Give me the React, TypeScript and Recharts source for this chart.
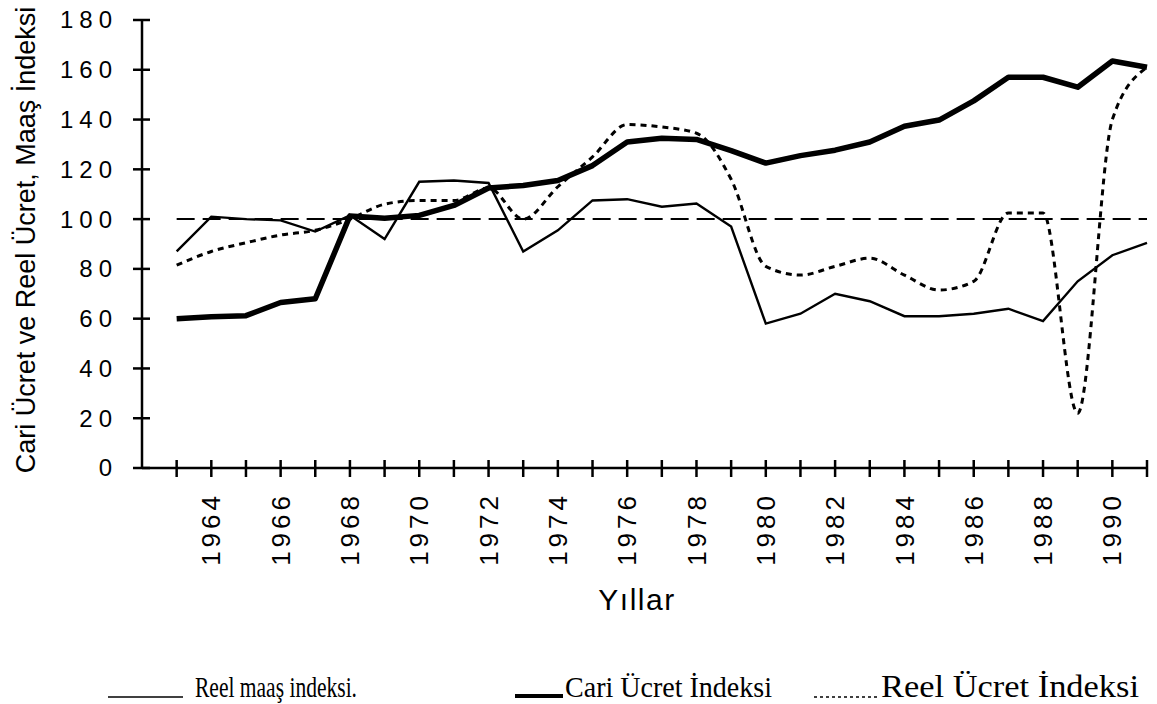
import React from 'react';
import { LineChart, Line, XAxis, YAxis, ReferenceLine } from 'recharts';

const years = [
  1963, 1964, 1965, 1966, 1967, 1968, 1969, 1970, 1971, 1972, 1973, 1974, 1975, 1976, 1977,
  1978, 1979, 1980, 1981, 1982, 1983, 1984, 1985, 1986, 1987, 1988, 1989, 1990, 1991,
];

// Reel maaş indeksi (thin line)
const reelMaas = [
  87, 101, 100, 99.5, 95, 101.5, 92, 115, 115.5, 114.5, 87, 95.5, 107.5, 108, 105,
  106.3, 97, 58, 62, 70, 67, 61, 61, 62, 64, 59, 75, 85.5, 90.5,
];

// Cari Ücret İndeksi (thick line)
const cariUcret = [
  60, 60.8, 61.2, 66.5, 68, 101.3, 100.3, 101.5, 105.5, 112.5, 113.5, 115.5, 121.5, 131, 132.5,
  132, 127.5, 122.5, 125.5, 127.7, 131, 137.3, 139.8, 147.5, 157, 157, 153, 163.5, 161,
];

// Reel Ücret İndeksi (dotted line)
const reelUcret = [
  81.5, 87, 90.5, 93.6, 95.5, 100, 106, 107.5, 107.5, 112.5, 100, 113, 125, 138, 137,
  134.5, 116, 81, 77.5, 81, 84.3, 77.5, 71.5, 75, 102.5, 102.5, 22, 140, 161,
];

const yTicks = [0, 20, 40, 60, 80, 100, 120, 140, 160, 180];
const baseLevel = 100;

const data = years.map((year, i) => ({
  year,
  reelMaas: reelMaas[i],
  cariUcret: cariUcret[i],
  reelUcret: reelUcret[i],
}));

const sans = 'Liberation Sans, Arial, sans-serif';
const serif = 'Liberation Serif, Times New Roman, serif';

const XTick = (props: any) => {
  const { x, y, payload } = props;
  const v = payload.value as number;
  const showLabel = v % 2 === 0;
  return (
    <g>
      <line x1={x} y1={y - 8} x2={x} y2={y + 9} stroke="#000" strokeWidth={2.5} />
      {showLabel && (
        <text
          x={x}
          y={y + 24}
          transform={`rotate(-90, ${x}, ${y + 24})`}
          textAnchor="end"
          dy="0.35em"
          fontFamily={sans}
          fontSize={26}
          letterSpacing={4}
          fill="#000"
        >
          {v}
        </text>
      )}
    </g>
  );
};

const YTick = (props: any) => {
  const { x, y, payload } = props;
  return (
    <g>
      <line x1={x - 9} y1={y} x2={x + 8} y2={y} stroke="#000" strokeWidth={2.5} />
      <text
        x={x - 24}
        y={y}
        textAnchor="end"
        dy="0.35em"
        fontFamily={sans}
        fontSize={24}
        letterSpacing={6}
        fill="#000"
      >
        {payload.value}
      </text>
    </g>
  );
};

export default function App() {
  return (
    <div style={{ position: 'absolute', left: 0, top: 0, width: 1157, height: 704, background: '#fff' }}>
      <LineChart width={1157} height={704} data={data} margin={{ top: 20, right: 10, left: 0, bottom: 0 }}>
        <XAxis
          dataKey="year"
          type="number"
          domain={[1962, 1991]}
          ticks={years}
          interval={0}
          height={236}
          tickSize={0}
          tickMargin={0}
          tickLine={false}
          tick={<XTick />}
          axisLine={{ stroke: '#000', strokeWidth: 2.5 }}
        />
        <YAxis
          type="number"
          domain={[0, 180]}
          ticks={yTicks}
          interval={0}
          width={142}
          tickSize={0}
          tickMargin={0}
          tickLine={false}
          tick={<YTick />}
          axisLine={{ stroke: '#000', strokeWidth: 2.5 }}
        />
        <ReferenceLine
          segment={[
            { x: 1963, y: baseLevel },
            { x: 1991, y: baseLevel },
          ]}
          stroke="#000"
          strokeWidth={2}
          strokeDasharray="18 8"
        />
        <Line
          type="monotone"
          dataKey="reelUcret"
          stroke="#000"
          strokeWidth={3}
          strokeDasharray="6 5"
          dot={false}
          isAnimationActive={false}
        />
        <Line
          type="linear"
          dataKey="reelMaas"
          stroke="#000"
          strokeWidth={2.4}
          dot={false}
          isAnimationActive={false}
        />
        <Line
          type="linear"
          dataKey="cariUcret"
          stroke="#000"
          strokeWidth={5.5}
          strokeLinejoin="round"
          dot={false}
          isAnimationActive={false}
        />
      </LineChart>

      {/* titles and legend */}
      <svg
        width={1157}
        height={704}
        style={{ position: 'absolute', left: 0, top: 0, pointerEvents: 'none' }}
      >
        <text
          x={26}
          y={240}
          transform="rotate(-90, 26, 240)"
          textAnchor="middle"
          dy="0.35em"
          fontFamily={sans}
          fontSize={27}
          fill="#000"
        >
          Cari Ücret ve Reel Ücret, Maaş İndeksi
        </text>
        <text x={637} y={610} textAnchor="middle" fontFamily={sans} fontSize={30} letterSpacing={1.5} fill="#000">
          Yıllar
        </text>

        <line x1={108} y1={697} x2={183} y2={697} stroke="#000" strokeWidth={1.5} />
        <text x={195} y={697} fontFamily={serif} fontSize={29} textLength={162} lengthAdjust="spacingAndGlyphs" fill="#000">
          Reel maaş indeksi.
        </text>

        <line x1={515} y1={696} x2={563} y2={696} stroke="#000" strokeWidth={4} />
        <text x={565} y={697} fontFamily={serif} fontSize={29} textLength={207} lengthAdjust="spacingAndGlyphs" fill="#000">
          Cari Ücret İndeksi
        </text>

        <line x1={814} y1={697} x2={880} y2={697} stroke="#000" strokeWidth={1.5} strokeDasharray="3 3" />
        <text x={881} y={697} fontFamily={serif} fontSize={31} textLength={258} lengthAdjust="spacingAndGlyphs" fill="#000">
          Reel Ücret İndeksi
        </text>
      </svg>
    </div>
  );
}
